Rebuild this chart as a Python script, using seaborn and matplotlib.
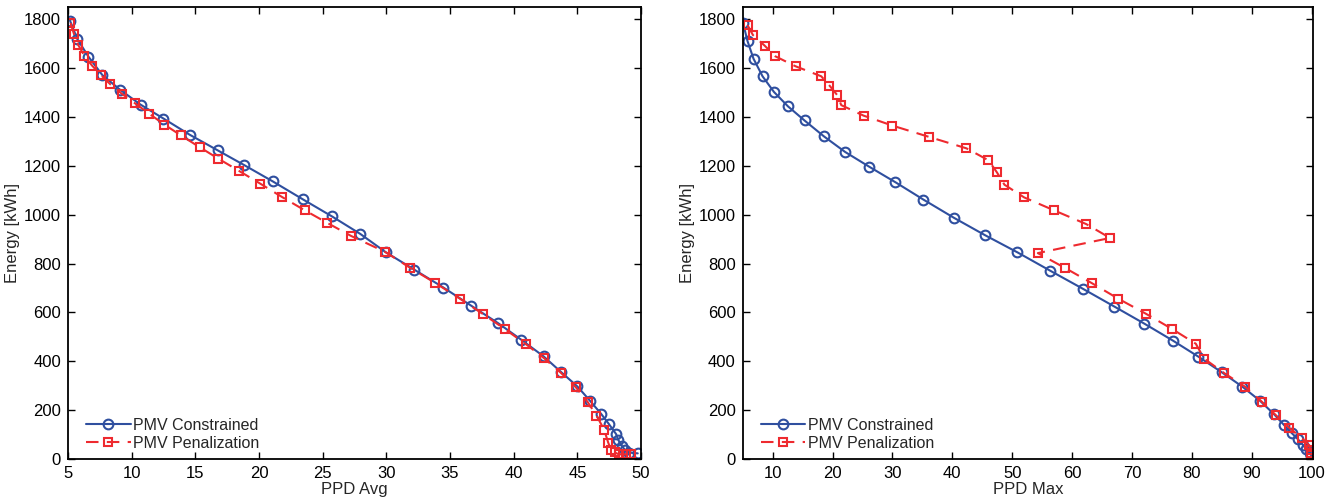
import numpy as np
import pandas as pd
import matplotlib
matplotlib.use("Agg")
import matplotlib.pyplot as plt
import seaborn as sns

# ---- data ----
avg_con_x = [5.16, 5.73, 6.6, 7.7, 9.09, 10.7, 12.5, 14.55, 16.75, 18.85, 21.07, 23.45,
             25.74, 27.97, 29.94, 32.2, 34.48, 36.68, 38.78, 40.6, 42.35, 43.72, 45.0,
             45.98, 46.86, 47.46, 48.04, 48.2, 48.48, 48.74, 49.08, 49.74]
avg_con_y = [1795, 1720, 1648, 1572, 1512, 1451, 1394, 1328, 1264, 1203, 1137, 1063,
             993, 921, 847, 775, 702, 627, 556, 488, 420, 356, 297,
             239, 185, 144, 102, 79, 54, 37, 26, 23]

avg_pen_x = [5.2, 5.47, 5.8, 6.28, 6.89, 7.57, 8.33, 9.22, 10.25, 11.37, 12.58, 13.87,
             15.33, 16.8, 18.45, 20.08, 21.8, 23.6, 25.35, 27.24, 29.9, 31.86, 33.83,
             35.76, 37.6, 39.3, 40.96, 42.4, 43.7, 44.89, 45.8, 46.5, 47.1, 47.42,
             47.66, 47.93, 48.25, 48.8, 49.2]
avg_pen_y = [1785, 1741, 1696, 1652, 1611, 1573, 1534, 1496, 1457, 1414, 1369, 1325,
             1277, 1230, 1179, 1128, 1073, 1018, 967, 913, 848, 783, 721,
             657, 593, 532, 470, 412, 353, 293, 234, 178, 120, 67,
             35, 27, 19, 19, 19]

max_con_x = [5.03, 5.79, 6.79, 8.3, 10.2, 12.54, 15.31, 18.55, 22.1, 26.16, 30.5, 35.17,
             40.3, 45.48, 50.87, 56.33, 61.79, 67.06, 72.07, 76.81, 81.08, 84.99,
             88.43, 91.39, 93.65, 95.35, 96.72, 97.74, 98.56, 99.12, 99.7, 99.95]
max_con_y = [1786, 1711, 1639, 1567, 1503, 1444, 1386, 1321, 1257, 1196, 1133, 1062,
             987, 916, 846, 771, 697, 624, 554, 485, 419, 355,
             296, 238, 185, 140, 105, 80, 57, 40, 23, 14]

max_pen_x = [5.79, 6.69, 8.63, 10.42, 13.81, 18.1, 19.48, 20.77, 21.44, 25.16, 30.0,
             36.08, 42.35, 46.03, 47.43, 48.7, 51.99, 56.99, 62.34, 66.34, 54.27,
             58.83, 63.29, 67.73, 72.3, 76.64, 80.65, 82.04, 85.43, 88.88, 91.7,
             94.0, 96.25, 98.35, 99.6, 99.9, 99.95, 99.95]
max_pen_y = [1777, 1736, 1693, 1649, 1608, 1567, 1529, 1490, 1449, 1406, 1365,
             1319, 1272, 1223, 1174, 1123, 1071, 1018, 962, 905, 843,
             782, 720, 656, 595, 533, 472, 411, 351, 296, 234,
             180, 128, 85, 56, 37, 23, 15]

label_con = "PMV Constrained"
label_pen = "PMV Penalization"
y_label = "Energy [kWh]"
x_label_avg = "PPD Avg"
x_label_max = "PPD Max"
y_ticks = [0, 200, 400, 600, 800, 1000, 1200, 1400, 1600, 1800]
x_ticks_avg = [5, 10, 15, 20, 25, 30, 35, 40, 45, 50]
x_ticks_max = [10, 20, 30, 40, 50, 60, 70, 80, 90, 100]

# ---- style ----
sns.set_theme(style="white")
plt.rcParams["font.family"] = ["Liberation Sans", "DejaVu Sans"]
plt.rcParams["axes.linewidth"] = 1.3

BLUE = "#2F4F9F"
RED = "#EE2A2F"

fig = plt.figure(figsize=(13.35, 4.99), dpi=100)
ax1 = fig.add_axes([0.0509, 0.0802, 0.4293, 0.9064])
ax2 = fig.add_axes([0.5564, 0.0802, 0.4270, 0.9064])


def draw(ax, cx, cy, px, py, xlabel, xticks, xlim):
    sns.lineplot(x=cx, y=cy, ax=ax, sort=False, estimator=None, color=BLUE,
                 linewidth=1.5, marker="o", markersize=7, markerfacecolor="none",
                 markeredgecolor=BLUE, markeredgewidth=1.5, label=label_con)
    sns.lineplot(x=px, y=py, ax=ax, sort=False, estimator=None, color=RED,
                 linewidth=1.5, linestyle=(0, (6, 4)), marker="s", markersize=6,
                 markerfacecolor="none", markeredgecolor=RED, markeredgewidth=1.5,
                 label=label_pen)
    ax.set_xlim(*xlim)
    ax.set_ylim(0, 1852)
    ax.set_xticks(xticks)
    ax.set_yticks(y_ticks)
    ax.set_xlabel(xlabel, fontsize=12, labelpad=1)
    ax.set_ylabel(y_label, fontsize=12, labelpad=3)
    ax.tick_params(direction="in", length=5, width=1.0, top=True, right=True,
                   bottom=True, left=True, labelsize=12, colors="black", pad=5)
    for s in ax.spines.values():
        s.set_color("black")
        s.set_linewidth(1.3)
    ax.legend(loc="lower left", frameon=False, fontsize=11.5, handlelength=2.8,
              borderaxespad=0.0, labelspacing=0.2, handletextpad=0.15,
              bbox_to_anchor=(0.02, 0.004))


draw(ax1, avg_con_x, avg_con_y, avg_pen_x, avg_pen_y, x_label_avg, x_ticks_avg, (5, 50))
draw(ax2, max_con_x, max_con_y, max_pen_x, max_pen_y, x_label_max, x_ticks_max, (5, 100.2))

fig.savefig("out.png", dpi=100)
